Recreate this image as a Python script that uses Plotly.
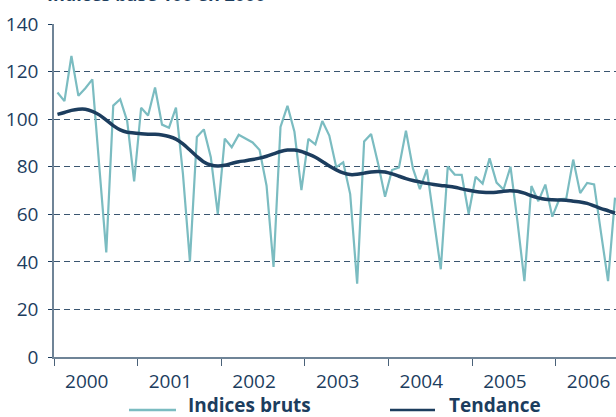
import plotly.graph_objects as go

# Monthly indices, Jan 2000 .. Sep 2006 (base 100 en 2000)
indices_bruts = [
    111.2, 107.6, 126.6, 109.8, 113.0, 116.7, 80.0, 44.0, 105.7, 108.4, 99.2, 73.8,
    104.8, 101.5, 113.3, 97.7, 96.4, 104.8, 77.0, 40.2, 92.5, 95.7, 84.0, 60.2,
    91.8, 88.2, 93.4, 91.9, 90.2, 87.0, 72.0, 37.9, 96.7, 105.6, 94.7, 70.2,
    91.7, 89.4, 99.2, 93.1, 79.8, 81.8, 68.5, 30.8, 90.6, 93.8, 81.4, 67.4,
    78.6, 79.7, 95.1, 79.3, 70.6, 78.9, 58.0, 36.9, 80.1, 76.7, 76.6, 60.2,
    75.8, 72.9, 83.5, 73.3, 70.4, 80.0, 57.0, 31.9, 71.9, 65.5, 72.5, 59.0,
    66.3, 66.6, 83.0, 68.9, 73.2, 72.6, 52.0, 31.9, 67.0,
]
tendance = [
    102.0, 102.8, 103.7, 104.2, 104.2, 103.3, 101.8, 99.6, 97.3, 95.5, 94.5, 94.2,
    93.9, 93.7, 93.6, 93.3, 92.7, 91.6, 89.6, 87.0, 84.3, 82.0, 80.7, 80.3,
    80.6, 81.4, 82.1, 82.5, 83.0, 83.6, 84.4, 85.4, 86.4, 87.0, 87.0, 86.4,
    85.3, 84.0, 82.2, 80.3, 78.7, 77.4, 76.7, 76.8, 77.3, 77.8, 78.0, 77.8,
    77.0, 76.0, 75.0, 74.2, 73.6, 73.0, 72.5, 72.1, 71.8, 71.4, 70.7, 70.1,
    69.6, 69.3, 69.2, 69.3, 69.7, 69.9, 69.7, 68.9, 67.8, 66.9, 66.3, 66.1,
    66.0, 65.9, 65.5, 65.2, 64.6, 63.5, 62.4, 61.5, 60.5,
]
years = ["2000", "2001", "2002", "2003", "2004", "2005", "2006"]

# months since Jan 2000, points placed mid-month
months = [i + 0.5 for i in range(len(indices_bruts))]
year_starts = [12 * k for k in range(len(years))]
label_pos = [12 * k + 4.7 for k in range(len(years))]

NAVY = "#1c3d5e"
TEAL = "#7bbcc1"
FONT = "Open Sans"

fig = go.Figure()

fig.add_trace(go.Scatter(
    x=months, y=indices_bruts, name="Indices bruts", mode="lines",
    line=dict(color=TEAL, width=2.2)
))
fig.add_trace(go.Scatter(
    x=months, y=tendance, name="Tendance", mode="lines",
    line=dict(color=NAVY, width=3.5, shape="spline", smoothing=0.8)
))

fig.update_xaxes(
    range=[0, 80.64],
    tickvals=label_pos, ticktext=years, ticks="",
    ticklabelstandoff=6,
    tickfont=dict(family=FONT, size=19, color=NAVY),
    showgrid=False, zeroline=False,
    showline=True, linecolor="#6f8497", linewidth=1.5,
    minor=dict(tickvals=year_starts, ticks="outside", ticklen=7,
               tickcolor="#4a6279", tickwidth=1.2, showgrid=False),
)
fig.update_yaxes(
    range=[0, 140], tickvals=list(range(0, 141, 20)),
    ticks="outside", ticklen=4, tickcolor=NAVY,
    ticklabelstandoff=6,
    tickfont=dict(family=FONT, size=19, color=NAVY),
    showgrid=True, gridcolor="#3a5570", gridwidth=1, griddash="6px,4px",
    zeroline=False,
    showline=True, linecolor="#6f8497", linewidth=1.5,
)

# pixel -> paper helpers for the legend and the cropped heading
PW, PH, L, B = 562, 333, 54, 60
def px(x):
    return (x - L) / PW
def py(y):
    return (417 - B - y) / PH

# legend drawn by hand (longer sample lines than plotly's)
legend_items = [("Indices bruts", TEAL, 129, 176, 187), ("Tendance", NAVY, 390, 435, 448)]
for label, color, x0, x1, xt in legend_items:
    fig.add_shape(type="line", xref="paper", yref="paper",
                  x0=px(x0), x1=px(x1), y0=py(410), y1=py(410),
                  line=dict(color=color, width=2.5))
    fig.add_annotation(text=f"<b>{label}</b>", xref="paper", yref="paper",
                       x=px(xt), y=py(405), xanchor="left", yanchor="middle",
                       showarrow=False, borderpad=0,
                       font=dict(family=FONT, size=19, color=NAVY))

# heading sits above the window, only its lower edge shows
fig.add_annotation(text="<b>Indices base 100 en 2000</b>", xref="paper", yref="paper",
                   x=px(46), y=py(-5.5), xanchor="left", yanchor="middle",
                   showarrow=False, borderpad=0,
                   font=dict(family=FONT, size=18, color=NAVY))

fig.update_layout(
    width=616, height=417,
    margin=dict(l=L, r=0, t=24, b=B),
    plot_bgcolor="white", paper_bgcolor="white",
    showlegend=False,
)

# page body has a default 8px margin; drop it so the figure fills the window
fig.write_html("out.html", config={"displayModeBar": False},
               post_script="document.body.style.margin = '0';")
